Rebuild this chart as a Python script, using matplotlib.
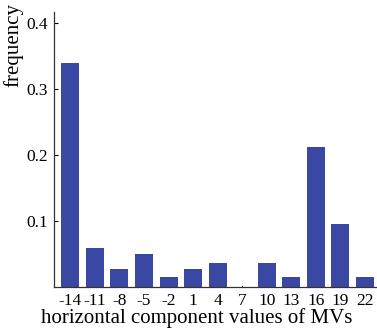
import matplotlib.pyplot as plt

# horizontal MV component values and their frequencies
mv_values = [-14, -11, -8, -5, -2, 1, 4, 7, 10, 13, 16, 19, 22]
frequency = [0.340, 0.060, 0.027, 0.050, 0.015, 0.027, 0.037, 0.0, 0.037, 0.015, 0.213, 0.095, 0.015]
y_ticks = [0.1, 0.2, 0.3, 0.4]

plt.rcParams['font.family'] = ['Liberation Serif', 'DejaVu Serif']

fig = plt.figure(figsize=(3.77, 3.30), dpi=100)
ax = fig.add_axes([0.143, 0.130, 0.86, 0.833])

ax.bar(mv_values, frequency, width=2.2, color='#3a48a4', edgecolor='none')
# zero-height bar shows as a tiny mark in the original
ax.plot([7, 7], [0, 0.002], color='#333333', lw=0.8)

ax.set_xlim(-16, 23.6)
ax.set_ylim(0, 0.417)
ax.set_xticks(mv_values)
ax.set_xticklabels([str(v) for v in mv_values], fontsize=12.5)
ax.set_yticks(y_ticks)
ax.set_yticklabels([f'{t:.1f}' for t in y_ticks], fontsize=12.5)
ax.tick_params(axis='x', length=0, pad=4)
ax.tick_params(axis='y', direction='in', length=3, pad=4)

ax.spines['top'].set_visible(False)
ax.spines['right'].set_visible(False)
for s in ['left', 'bottom']:
    ax.spines[s].set_color('#333333')
    ax.spines[s].set_linewidth(0.9)

ax.set_xlabel('horizontal component values of MVs', fontsize=15, labelpad=0)
ax.xaxis.set_label_coords(0.44, -0.075)
fig.text(0.037, 0.865, 'frequency', rotation=90, fontsize=15, ha='center', va='center')

fig.savefig('out.png', dpi=100)
